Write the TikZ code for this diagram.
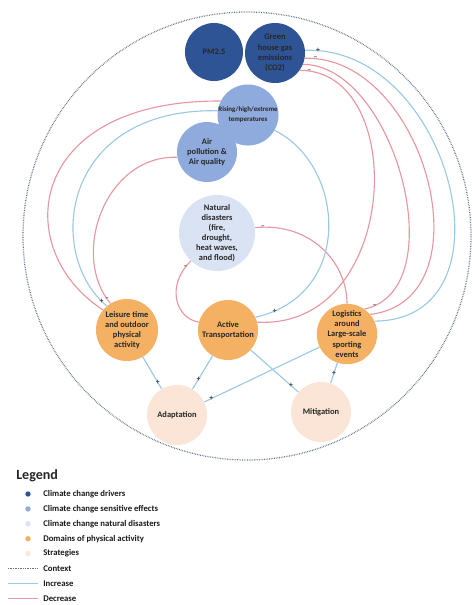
\documentclass[tikz,border=0pt]{standalone}
\usepackage{fontspec}
\setmainfont{Carlito}
\usetikzlibrary{backgrounds}
\definecolor{drvblue}{RGB}{47,84,150}
\definecolor{effblue}{RGB}{143,170,220}
\definecolor{disblue}{RGB}{218,227,243}
\definecolor{domorange}{RGB}{244,177,99}
\definecolor{strpeach}{RGB}{251,229,214}
\definecolor{incline}{RGB}{155,200,228}
\definecolor{decline}{RGB}{232,150,160}
\definecolor{ctxgray}{RGB}{105,115,135}

\begin{document}
\begin{tikzpicture}[
    x=0.025cm, y=-0.025cm,
    bubble/.style={
        circle,
        inner sep=0pt,
        minimum size=1.5cm,
        align=center,
        text=black!85,
        font=\fontsize{6}{7.2}\selectfont\bfseries
    },
    driver/.style={bubble, fill=drvblue},
    effect/.style={bubble, fill=effblue},
    disaster/.style={bubble, fill=disblue, minimum size=1.9cm},
    activity/.style={bubble, fill=domorange},
    strategy/.style={bubble, fill=strpeach},
    incr/.style={draw=incline, line width=0.8pt},
    decr/.style={draw=decline, line width=0.8pt},
    ctxline/.style={draw=ctxgray, line width=0.9pt, dash pattern=on 0.5pt off 0.7pt},
    sgn/.style={inner sep=0.3pt, text=black!75, font=\fontsize{5.5}{5.5}\selectfont\bfseries},
    legtext/.style={anchor=west, inner sep=0pt, text=black!90, font=\fontsize{6.2}{7}\selectfont\bfseries}
]
\useasboundingbox (0,0) rectangle (472,605);
\clip (0,0) rectangle (472,605);

% Nodes (pixel grid of the figure)
\node[driver, minimum size=1.45cm] (pm) at (214,52) {PM2.5};
\node[driver] (ghg) at (275,53) {Green\\house gas\\emissions\\(CO2)};
\node[effect, minimum size=1.45cm, font=\fontsize{4.9}{7.2}\selectfont\bfseries] (rise) at (248,115) {Rising/high/extreme\\temperatures};
\node[effect] (air) at (207,152) {Air\\pollution \&\\Air quality};
\node[disaster] (nat) at (217,233) {Natural\\disasters\\(fire,\\drought,\\heat waves,\\and flood)};
\node[activity, minimum size=1.55cm] (leis) at (127,330) {Leisure time\\and outdoor\\physical\\activity};
\node[activity] (act) at (228,330) {Active\\Transportation};
\node[activity] (logi) at (347,334) {Logistics\\around\\Large-scale\\sporting\\events};
\node[strategy] (adap) at (177,415) {Adaptation};
\node[strategy] (miti) at (321,412) {Mitigation};

\begin{scope}[on background layer]
% Context
\draw[ctxline] (247,236) circle (224);

% Curved links
\draw[decr] (rise.153) .. controls (25,100) and (10,250) .. (leis.140);
\draw[incr] (rise.172) .. controls (60,108) and (45,255) .. node[sgn, pos=.97] (s1) {+} (leis.130);
\draw[decr] (air.190) .. controls (105,155) and (70,255) .. node[sgn, pos=.97] (s2) {--} (leis.122);
\draw[decr] (nat.8) .. controls (310,222) and (347,262) .. node[sgn, pos=.05] (s3) {--} (logi.90);
\draw[decr] (act.165) .. controls (175,318) and (166,285) .. node[sgn, pos=.92] (s4) {--} (nat.227);
\draw[incr] (rise.-30) .. controls (345,165) and (355,295) .. node[sgn, pos=.93] (s5) {+} (act.25);
\draw[incr] (ghg.5) .. controls (450,45) and (520,320) .. node[sgn, pos=.03] (s6) {+} (logi.25);
\draw[decr] (ghg.-10) .. controls (425,55) and (490,300) .. node[sgn, pos=.03] (s7) {--} (logi.40);
\draw[decr] (ghg.-22) .. controls (395,65) and (455,290) .. node[sgn, pos=.96] (s8) {--} (logi.55);
\draw[decr] (ghg.-35) .. controls (410,70) and (400,330) .. node[sgn, pos=.03] (s9) {--} (act.15);

% Straight links
\draw[incr] (leis) -- node[sgn, pos=.8] (s10) {+} (adap);
\draw[incr] (act) -- node[sgn, pos=.7] (s11) {+} (adap);
\draw[incr] (logi) -- node[sgn, pos=.94] (s12) {+} (adap);
\draw[incr] (act) -- node[sgn, pos=.85] (s13) {+} (miti);
\draw[incr] (logi) -- node[sgn, pos=.5] (s14) {+} (miti);
\end{scope}

% Legend
\node[anchor=west, inner sep=0pt, font=\fontsize{10}{10}\selectfont\bfseries, text=black!85] (legtitle) at (16,476) {Legend};
\foreach \c/\t [count=\i] in {drvblue/Climate change drivers, effblue/Climate change sensitive effects,
    disblue/Climate change natural disasters, domorange/Domains of physical activity, strpeach/Strategies} {
    \fill[\c] (28,{479.1+14.9*\i}) circle (2.7);
    \node[legtext] (leg\i) at (43,{479.1+14.9*\i}) {\t};
}
\draw[ctxline] (8,568.5) -- (38,568.5);
\node[legtext] (legctx) at (43,568.5) {Context};
\draw[incr] (8,583.4) -- (38,583.4);
\node[legtext] (leginc) at (43,583.4) {Increase};
\draw[decr] (8,598.3) -- (38,598.3);
\node[legtext] (legdec) at (43,598.3) {Decrease};

\end{tikzpicture}
\end{document}
